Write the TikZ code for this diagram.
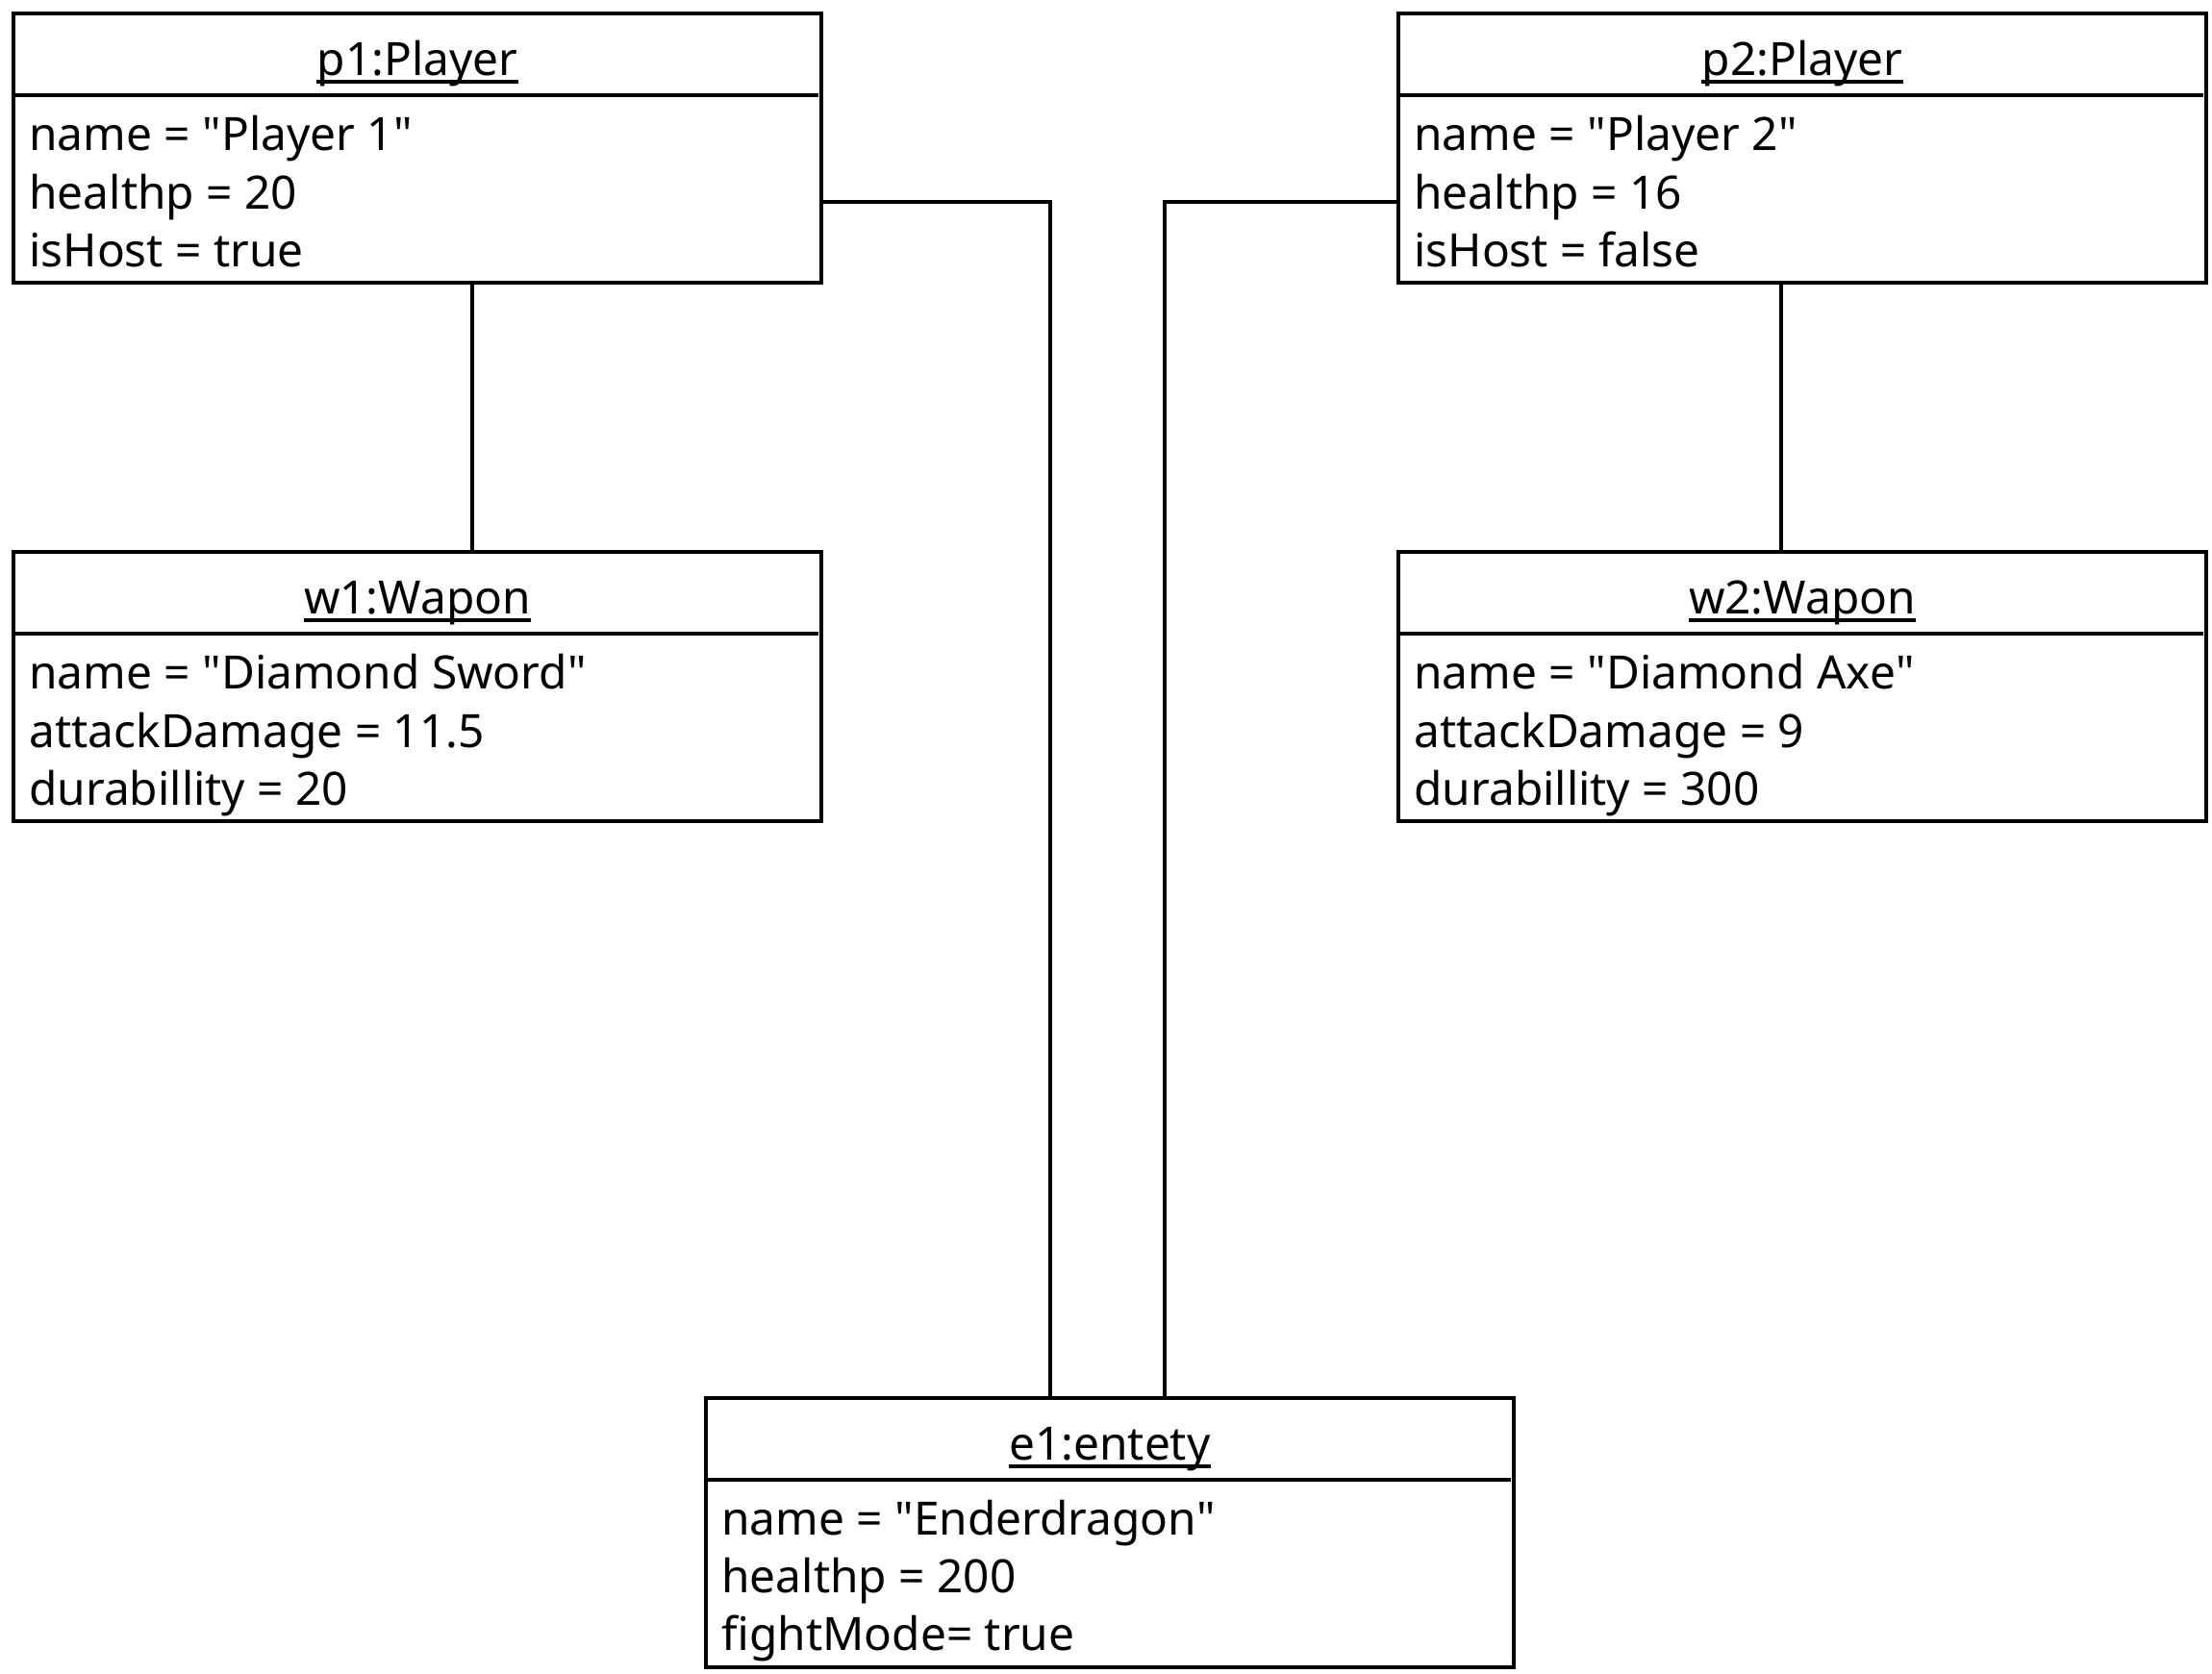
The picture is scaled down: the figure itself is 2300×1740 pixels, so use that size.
\documentclass[tikz,border=0pt]{standalone}
\usepackage{fontspec}
\setmainfont{Noto Sans}
\newcommand\qq{\textquotedbl}
\begin{document}
\begin{tikzpicture}[x=0.5pt,y=-0.5pt,
  obj/.style={draw, line width=2pt, inner sep=0pt, minimum width=420.25pt, minimum height=140pt, anchor=north west},
  ttl/.style={inner sep=0pt, anchor=base, font=\fontsize{23.9}{28}\selectfont},
  attr/.style={inner sep=0pt, anchor=base west, font=\fontsize{23.9}{28}\selectfont},
  sep/.style={line width=2pt},
  uln/.style={line width=2pt},
  link/.style={line width=2pt}]
\useasboundingbox (0,0) rectangle (2300,1740);
% objects
\node[obj] (p1) at (11.7,11.7) {};
\node[obj] (w1) at (11.7,571.7) {};
\node[obj] (p2) at (1451.7,11.7) {};
\node[obj] (w2) at (1451.7,571.7) {};
\node[obj] (e1) at (731.6,1451.7) {};
% titles
\node[ttl] (p1t) at (p1.north |- 0,78) {p1:Player};
\node[ttl] (w1t) at (w1.north |- 0,638) {w1:Wapon};
\node[ttl] (p2t) at (p2.north |- 0,78) {p2:Player};
\node[ttl] (w2t) at (w2.north |- 0,638) {w2:Wapon};
\node[ttl] (e1t) at (e1.north |- 0,1518) {e1:entety};
\foreach \t in {p1t,w1t,p2t,w2t,e1t}
  \draw[uln] ([yshift=-3.5pt]\t.base west) -- ([yshift=-3.5pt]\t.base east);
% separators
\draw[sep] (p1.west |- 0,99.3) -- ([xshift=-2.5pt]p1.east |- 0,99.3);
\draw[sep] (w1.west |- 0,659.3) -- ([xshift=-2.5pt]w1.east |- 0,659.3);
\draw[sep] (p2.west |- 0,99.3) -- ([xshift=-2.5pt]p2.east |- 0,99.3);
\draw[sep] (w2.west |- 0,659.3) -- ([xshift=-2.5pt]w2.east |- 0,659.3);
\draw[sep] (e1.west |- 0,1539.3) -- ([xshift=-2.5pt]e1.east |- 0,1539.3);
% attributes
\node[attr] (p1a) at (30,156.7) {name = \qq Player 1\qq};
\node[attr] (p1b) at (30,217) {healthp = 20};
\node[attr] (p1c) at (30,277) {isHost = true};
\node[attr] (w1a) at (30,716.7) {name = \qq Diamond Sword\qq};
\node[attr] (w1b) at (30,777) {attackDamage = 11.5};
\node[attr] (w1c) at (30,837) {durabillity = 20};
\node[attr] (p2a) at (1470,156.7) {name = \qq Player 2\qq};
\node[attr] (p2b) at (1470,217) {healthp = 16};
\node[attr] (p2c) at (1470,277) {isHost = false};
\node[attr] (w2a) at (1470,716.7) {name = \qq Diamond Axe\qq};
\node[attr] (w2b) at (1470,777) {attackDamage = 9};
\node[attr] (w2c) at (1470,837) {durabillity = 300};
\node[attr] (e1a) at (750,1596.7) {name = \qq Enderdragon\qq};
\node[attr] (e1b) at (750,1656.7) {healthp = 200};
\node[attr] (e1c) at (750,1716.7) {fightMode= true};
% connectors
\coordinate (j1) at (1092,210);
\coordinate (j2) at (1211,210);
\coordinate (k1) at (491,0);
\coordinate (k2) at (1852,0);
\draw[link] (p1.east |- j1) -- (j1) -- (j1 |- e1.north);
\draw[link] (p2.west |- j2) -- (j2) -- (j2 |- e1.north);
\draw[link] (k1 |- p1.south) -- (k1 |- w1.north);
\draw[link] (k2 |- p2.south) -- (k2 |- w2.north);
\end{tikzpicture}
\end{document}
